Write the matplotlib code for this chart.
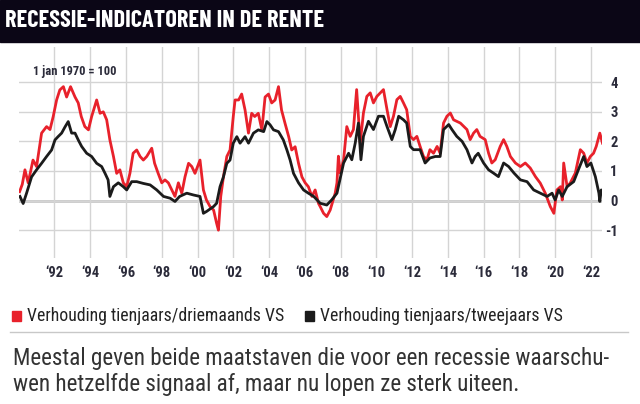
import matplotlib
matplotlib.use("Agg")
import matplotlib.pyplot as plt
from matplotlib.patches import Rectangle

# readings (year, index value)
red_years = [1990.05, 1990.2, 1990.35, 1990.53, 1990.8, 1991.0, 1991.28, 1991.56, 1991.75, 1991.93,
             1992.12, 1992.3, 1992.5, 1992.68, 1992.9, 1993.15, 1993.33, 1993.5, 1993.7, 1993.9,
             1994.08, 1994.36, 1994.55, 1994.73, 1994.92, 1995.1, 1995.3, 1995.48, 1995.66, 1995.85,
             1996.04, 1996.22, 1996.4, 1996.6, 1996.79, 1996.97, 1997.16, 1997.44, 1997.6, 1997.8,
             1998.0, 1998.18, 1998.37, 1998.56, 1998.74, 1998.93, 1999.12, 1999.3, 1999.5, 1999.68,
             1999.86, 2000.14, 2000.33, 2000.5, 2000.7, 2000.9, 2001.07, 2001.17, 2001.3, 2001.45,
             2001.64, 2001.82, 2002.0, 2002.1, 2002.3, 2002.47, 2002.66, 2002.85, 2003.03, 2003.2,
             2003.4, 2003.6, 2003.78, 2003.97, 2004.15, 2004.34, 2004.53, 2004.7, 2004.9, 2005.1,
             2005.27, 2005.46, 2005.65, 2005.84, 2006.02, 2006.2, 2006.4, 2006.58, 2006.77, 2006.86,
             2007.05, 2007.23, 2007.42, 2007.7, 2007.8, 2007.88, 2007.98, 2008.17, 2008.35, 2008.54,
             2008.72, 2008.9, 2009.0, 2009.1, 2009.28, 2009.47, 2009.66, 2009.84, 2010.03, 2010.22,
             2010.4, 2010.6, 2010.78, 2010.96, 2011.15, 2011.34, 2011.52, 2011.7, 2011.9, 2012.08,
             2012.27, 2012.45, 2012.64, 2012.83, 2013.0, 2013.2, 2013.4, 2013.57, 2013.76, 2013.95,
             2014.14, 2014.32, 2014.7, 2015.07, 2015.25, 2015.44, 2015.62, 2015.8, 2016.09, 2016.28,
             2016.46, 2016.65, 2016.93, 2017.12, 2017.3, 2017.5, 2017.78, 2018.06, 2018.33, 2018.61,
             2018.9, 2019.17, 2019.45, 2019.73, 2019.93, 2020.1, 2020.3, 2020.4, 2020.48, 2020.67,
             2020.85, 2021.13, 2021.41, 2021.6, 2021.78, 2021.97, 2022.15, 2022.3, 2022.5, 2022.65]
red_values = [0.3, 0.55, 1.04, 0.6, 1.37, 1.15, 2.28, 2.5, 2.4, 2.84,
              3.4, 3.74, 3.85, 3.5, 3.85, 3.5, 3.3, 2.84, 2.5, 2.39,
              2.84, 3.4, 2.95, 3.0, 2.73, 2.05, 1.49, 0.92, 1.04, 0.6,
              0.47, 0.92, 1.6, 1.71, 1.49, 1.37, 1.49, 1.77, 1.26, 0.92,
              0.6, 0.7, 0.6, 0.36, 0.14, 0.6, 0.25, 0.8, 1.26, 1.15,
              0.92, 1.37, 0.36, 0.02, -0.2, -0.32, -0.77, -1.0, 0.14, 0.8,
              1.49, 1.71, 2.84, 3.4, 3.4, 3.6, 3.06, 2.28, 2.95, 2.84,
              2.95, 2.39, 3.5, 3.6, 3.3, 3.4, 3.85, 3.06, 2.6, 2.16,
              1.71, 1.82, 1.26, 0.8, 0.6, 0.47, 0.14, 0.36, -0.1, -0.2,
              -0.43, -0.54, -0.32, 0.25, 0.6, 1.5, 0.93, 1.38, 2.5, 2.17,
              2.4, 3.75, 2.85, 1.94, 2.96, 3.52, 3.64, 3.3, 3.52, 3.64,
              3.75, 3.07, 2.5, 2.85, 3.41, 3.52, 3.3, 3.07, 2.17, 2.06,
              2.17, 1.83, 1.49, 1.38, 1.72, 1.6, 1.83, 1.6, 2.62, 2.85,
              2.96, 2.73, 2.62, 2.4, 2.06, 2.28, 2.4, 2.17, 2.06, 1.6,
              1.27, 1.38, 1.83, 2.06, 1.83, 1.49, 1.27, 1.15, 1.27, 1.1,
              0.81, 0.59, 0.25, -0.2, -0.43, 0.36, 0.47, 0.02, 1.27, 0.47,
              0.6, 0.93, 1.72, 1.6, 1.27, 1.49, 1.6, 1.83, 2.28, 1.94]

black_years = [1990.07, 1990.25, 1990.44, 1990.72, 1991.0, 1991.28, 1991.56, 1991.84, 1992.03, 1992.2,
               1992.4, 1992.6, 1992.77, 1992.96, 1993.15, 1993.33, 1993.52, 1993.8, 1994.08, 1994.36,
               1994.64, 1994.83, 1995.0, 1995.1, 1995.3, 1995.57, 1995.85, 1996.04, 1996.32, 1996.6,
               1996.97, 1997.35, 1997.72, 1998.1, 1998.47, 1998.74, 1999.0, 1999.4, 1999.77, 2000.14,
               2000.33, 2000.5, 2000.9, 2001.07, 2001.26, 2001.45, 2001.64, 2001.82, 2002.0, 2002.2,
               2002.38, 2002.66, 2002.85, 2003.13, 2003.4, 2003.7, 2003.88, 2004.06, 2004.25, 2004.53,
               2004.8, 2005.0, 2005.18, 2005.37, 2005.65, 2005.93, 2006.2, 2006.5, 2006.77, 2006.86,
               2007.23, 2007.5, 2007.8, 2008.17, 2008.45, 2008.63, 2008.82, 2009.0, 2009.14, 2009.28,
               2009.56, 2009.84, 2010.12, 2010.4, 2010.6, 2010.87, 2011.06, 2011.25, 2011.52, 2011.7,
               2011.9, 2012.08, 2012.45, 2012.73, 2013.0, 2013.3, 2013.57, 2013.76, 2014.05, 2014.23,
               2014.5, 2014.8, 2015.07, 2015.35, 2015.53, 2015.7, 2016.0, 2016.28, 2016.55, 2016.83,
               2017.12, 2017.4, 2017.7, 2018.06, 2018.43, 2018.8, 2019.17, 2019.55, 2019.83, 2020.0,
               2020.2, 2020.4, 2020.67, 2021.04, 2021.3, 2021.6, 2021.78, 2022.0, 2022.25, 2022.45,
               2022.5, 2022.58, 2022.65]
black_values = [0.14, -0.1, 0.25, 0.8, 1.04, 1.26, 1.49, 1.71, 2.05, 2.16,
                2.28, 2.5, 2.67, 2.28, 2.28, 2.05, 1.83, 1.6, 1.49, 1.26,
                1.15, 0.92, 0.7, 0.14, 0.47, 0.6, 0.47, 0.36, 0.64, 0.64,
                0.58, 0.53, 0.36, 0.14, 0.08, -0.03, 0.14, 0.25, 0.19, 0.14,
                -0.43, -0.37, -0.2, -0.09, 0.47, 0.8, 1.26, 1.37, 1.94, 2.16,
                1.94, 2.16, 1.94, 2.28, 2.39, 2.33, 2.67, 2.56, 2.39, 2.33,
                2.05, 1.71, 1.37, 0.92, 0.6, 0.36, 0.25, 0.14, -0.03, -0.09,
                -0.15, 0.02, 0.25, 1.27, 1.6, 1.38, 1.94, 2.62, 1.38, 2.17,
                2.68, 2.4, 2.85, 2.85, 2.5, 2.06, 2.4, 2.85, 2.73, 2.62,
                1.83, 1.72, 1.72, 1.27, 1.44, 1.49, 1.49, 2.4, 2.57, 2.4,
                2.17, 2.0, 1.72, 1.27, 1.49, 1.6, 1.27, 1.04, 0.93, 0.81,
                1.27, 1.15, 0.93, 0.7, 0.64, 0.36, 0.25, 0.14, 0.25, 0.02,
                0.36, 0.14, 0.47, 0.64, 1.04, 1.49, 1.15, 1.27, 0.81, 0.25,
                -0.03, 0.36, 0.3]

x_ticks = list(range(1992, 2023, 2))
x_labels = ["\u2018%02d" % (y % 100) for y in x_ticks]
y_ticks = [-1, 0, 1, 2, 3, 4]

title = "RECESSIE-INDICATOREN IN DE RENTE"
unit_note = "1 jan 1970 = 100"
legend_labels = ["Verhouding tienjaars/driemaands VS", "Verhouding tienjaars/tweejaars VS"]
caption = ["Meestal geven beide maatstaven die voor een recessie waarschu-",
           "wen hetzelfde signaal af, maar nu lopen ze sterk uiteen."]

RED = "#e8212b"
BLACK = "#1b1b1b"
NAVY = "#0b0616"
LABEL = "#2b2b3a"
TITLE_FONT = ["Barlow Condensed", "DejaVu Sans"]
NARROW = ["Roboto Condensed", "DejaVu Sans"]

W, H = 640, 404


def fx(px):
    return px / W


def fy(py):
    return 1 - py / H


fig = plt.figure(figsize=(6.4, 4.04), dpi=100)

# title bar
fig.patches.append(Rectangle((0, fy(42)), 1, 42 / H, transform=fig.transFigure,
                             color=NAVY, zorder=0))
fig.text(fx(5), fy(21), title, color="white", fontsize=17.5, fontweight="bold",
         family=TITLE_FONT, va="center", ha="left")

# chart area
ax = fig.add_axes([fx(18.7), fy(258), fx(601.6) - fx(18.7), (258 - 47) / H])
ax.set_xlim(1990.0, 2022.6)
ax.set_ylim(-1.94, 5.19)
for s in ax.spines.values():
    s.set_visible(False)

ax.set_xticks(x_ticks)
ax.set_xticklabels(x_labels, family=NARROW, fontweight="bold", fontsize=10.5, color=LABEL)
ax.set_yticks(y_ticks)
ax.set_yticklabels([str(v) for v in y_ticks], family=NARROW, fontweight="bold",
                   fontsize=10.5, color=LABEL, ha="right")
ax.yaxis.tick_right()
ax.tick_params(axis="both", length=0)
ax.tick_params(axis="y", pad=11.5)
ax.tick_params(axis="x", pad=6)
ax.grid(True, color="#d4d4d4", lw=1.0)
ax.axhline(0, color="#bdbdbd", lw=1.8, zorder=1)

ax.plot(black_years, black_values, color=BLACK, lw=2.0, zorder=3)
ax.plot(red_years, red_values, color=RED, lw=2.0, zorder=2)

fig.text(fx(33), fy(71), unit_note, family=NARROW, fontweight="bold", fontsize=9,
         color=LABEL, va="center", ha="left")

# legend
fig.patches.append(Rectangle((fx(12), fy(321)), 9 / W, 10 / H, transform=fig.transFigure,
                             color=RED))
fig.text(fx(27), fy(316), legend_labels[0], family=NARROW, fontsize=12.8, color="#222222",
         va="center", ha="left")
fig.patches.append(Rectangle((fx(305), fy(321)), 9 / W, 10 / H, transform=fig.transFigure,
                             color=BLACK))
fig.text(fx(320), fy(316), legend_labels[1], family=NARROW, fontsize=12.8, color="#222222",
         va="center", ha="left")
fig.add_artist(plt.Line2D([fx(10), fx(628)], [fy(332), fy(332)], color="#c8c8c8", lw=1,
                          transform=fig.transFigure))

# caption
fig.text(fx(13), fy(358), caption[0], family=NARROW, fontsize=16.7, color="#333333",
         va="center", ha="left")
fig.text(fx(13), fy(384), caption[1], family=NARROW, fontsize=16.7, color="#333333",
         va="center", ha="left")

fig.savefig("out.png", dpi=100)
